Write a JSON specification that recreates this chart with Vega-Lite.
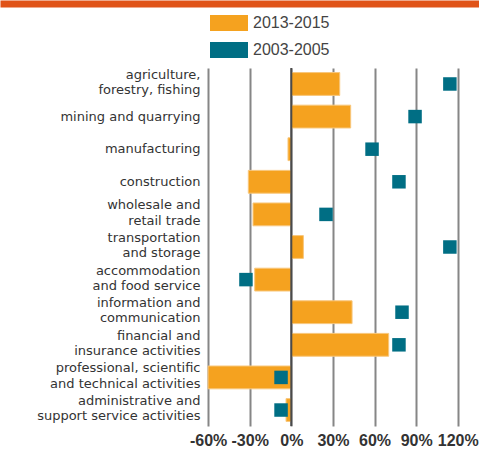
{
  "$schema": "https://vega.github.io/schema/vega-lite/v6.json",
  "width": 479,
  "height": 358,
  "autosize": {"type": "none"},
  "padding": {"left": 0, "top": 68, "right": 0, "bottom": 23},
  "background": "white",
  "config": {
    "view": {"stroke": null},
    "legend": {
      "orient": "none",
      "legendX": 210,
      "legendY": -64,
      "padding": 0,
      "symbolType": "M-1,-0.42H1V0.42H-1Z",
      "symbolSize": 1444,
      "symbolStrokeWidth": 0,
      "symbolOpacity": 1,
      "labelFont": "Liberation Sans",
      "labelFontSize": 16,
      "labelColor": "#444444",
      "labelOffset": 5,
      "rowPadding": -16
    }
  },
  "data": {
    "values": [
      {"sector": "agriculture,\nforestry, fishing", "period": "2013-2015", "value": 34.9},
      {"sector": "mining and quarrying", "period": "2013-2015", "value": 42.8},
      {"sector": "manufacturing", "period": "2013-2015", "value": -2.4},
      {"sector": "construction", "period": "2013-2015", "value": -31},
      {"sector": "wholesale and\nretail trade", "period": "2013-2015", "value": -27.6},
      {"sector": "transportation\nand storage", "period": "2013-2015", "value": 8.7},
      {"sector": "accommodation\nand food service", "period": "2013-2015", "value": -26.4},
      {"sector": "information and\ncommunication", "period": "2013-2015", "value": 43.8},
      {"sector": "financial and \ninsurance activities", "period": "2013-2015", "value": 70.2},
      {"sector": "professional, scientific \nand technical activities", "period": "2013-2015", "value": -60},
      {"sector": "administrative and \nsupport service activities", "period": "2013-2015", "value": -3.8},
      {"sector": "agriculture,\nforestry, fishing", "period": "2003-2005", "value": 114.3},
      {"sector": "mining and quarrying", "period": "2003-2005", "value": 89.2},
      {"sector": "manufacturing", "period": "2003-2005", "value": 58.2},
      {"sector": "construction", "period": "2003-2005", "value": 77.6},
      {"sector": "wholesale and\nretail trade", "period": "2003-2005", "value": 25},
      {"sector": "transportation\nand storage", "period": "2003-2005", "value": 114.3},
      {"sector": "accommodation\nand food service", "period": "2003-2005", "value": -32.7},
      {"sector": "information and\ncommunication", "period": "2003-2005", "value": 79.8},
      {"sector": "financial and \ninsurance activities", "period": "2003-2005", "value": 77.6},
      {"sector": "professional, scientific \nand technical activities", "period": "2003-2005", "value": -7.4},
      {"sector": "administrative and \nsupport service activities", "period": "2003-2005", "value": -7.4}
    ]
  },
  "layer": [
    {
      "transform": [{"filter": "datum.period === '2013-2015'"}],
      "mark": {"type": "bar", "stroke": "#F8C77C", "strokeWidth": 1},
      "encoding": {
        "y": {
          "field": "sector", "type": "nominal", "sort": null,
          "scale": {"paddingInner": 0.3, "paddingOuter": 0.14},
          "axis": {
            "title": null, "orient": "left", "offset": -208,
            "domain": false, "ticks": false, "grid": false,
            "labelPadding": 8, "labelFont": "DejaVu Sans", "labelFontSize": 13,
            "labelColor": "#333333", "labelLineHeight": 15.2, "labelLimit": 0,
            "labelOffset": {"condition": {"test": "indexof(datum.value, '\\n') >= 0", "value": -9}, "value": 0},
            "labelExpr": "split(datum.label, '\\n')"
          }
        },
        "x": {
          "field": "value", "type": "quantitative",
          "scale": {"domain": [-210, 135.3], "nice": false, "zero": false},
          "axis": {
            "title": null, "orient": "bottom", "values": [-60, -30, 0, 30, 60, 90, 120],
            "labelExpr": "datum.value + '%'", "domain": false, "ticks": false,
            "grid": true, "gridColor": "#868686", "gridWidth": 2,
            "labelFont": "Liberation Sans", "labelFontWeight": "bold", "labelFontSize": 16,
            "labelColor": "#333333", "labelPadding": 6, "labelOverlap": false, "labelFlush": false
          }
        },
        "x2": {"datum": 0},
        "color": {
          "field": "period", "type": "nominal",
          "scale": {"domain": ["2013-2015", "2003-2005"], "range": ["#F5A21F", "#006E84"]},
          "legend": {"title": null}
        }
      }
    },
    {
      "transform": [{"filter": "datum.period === '2003-2005'"}],
      "mark": {"type": "square", "size": 182, "opacity": 1, "filled": true},
      "encoding": {
        "y": {
          "field": "sector", "type": "nominal", "sort": null,
          "scale": {"paddingInner": 0.3, "paddingOuter": 0.14}
        },
        "x": {
          "field": "value", "type": "quantitative",
          "axis": {
            "title": null, "orient": "top", "labels": false, "ticks": false, "grid": false,
            "domain": true, "domainColor": "#E05318", "domainWidth": 7, "offset": 64.6
          }
        },
        "color": {
          "field": "period", "type": "nominal",
          "scale": {"domain": ["2013-2015", "2003-2005"], "range": ["#F5A21F", "#006E84"]},
          "legend": {"title": null}
        }
      }
    },
    {
      "data": {"values": [{"zero": 0}]},
      "mark": {"type": "rule", "color": "#4a4a4a", "strokeWidth": 2},
      "encoding": {
        "x": {"field": "zero", "type": "quantitative", "axis": null}
      }
    }
  ],
  "resolve": {"axis": {"x": "independent"}}
}
